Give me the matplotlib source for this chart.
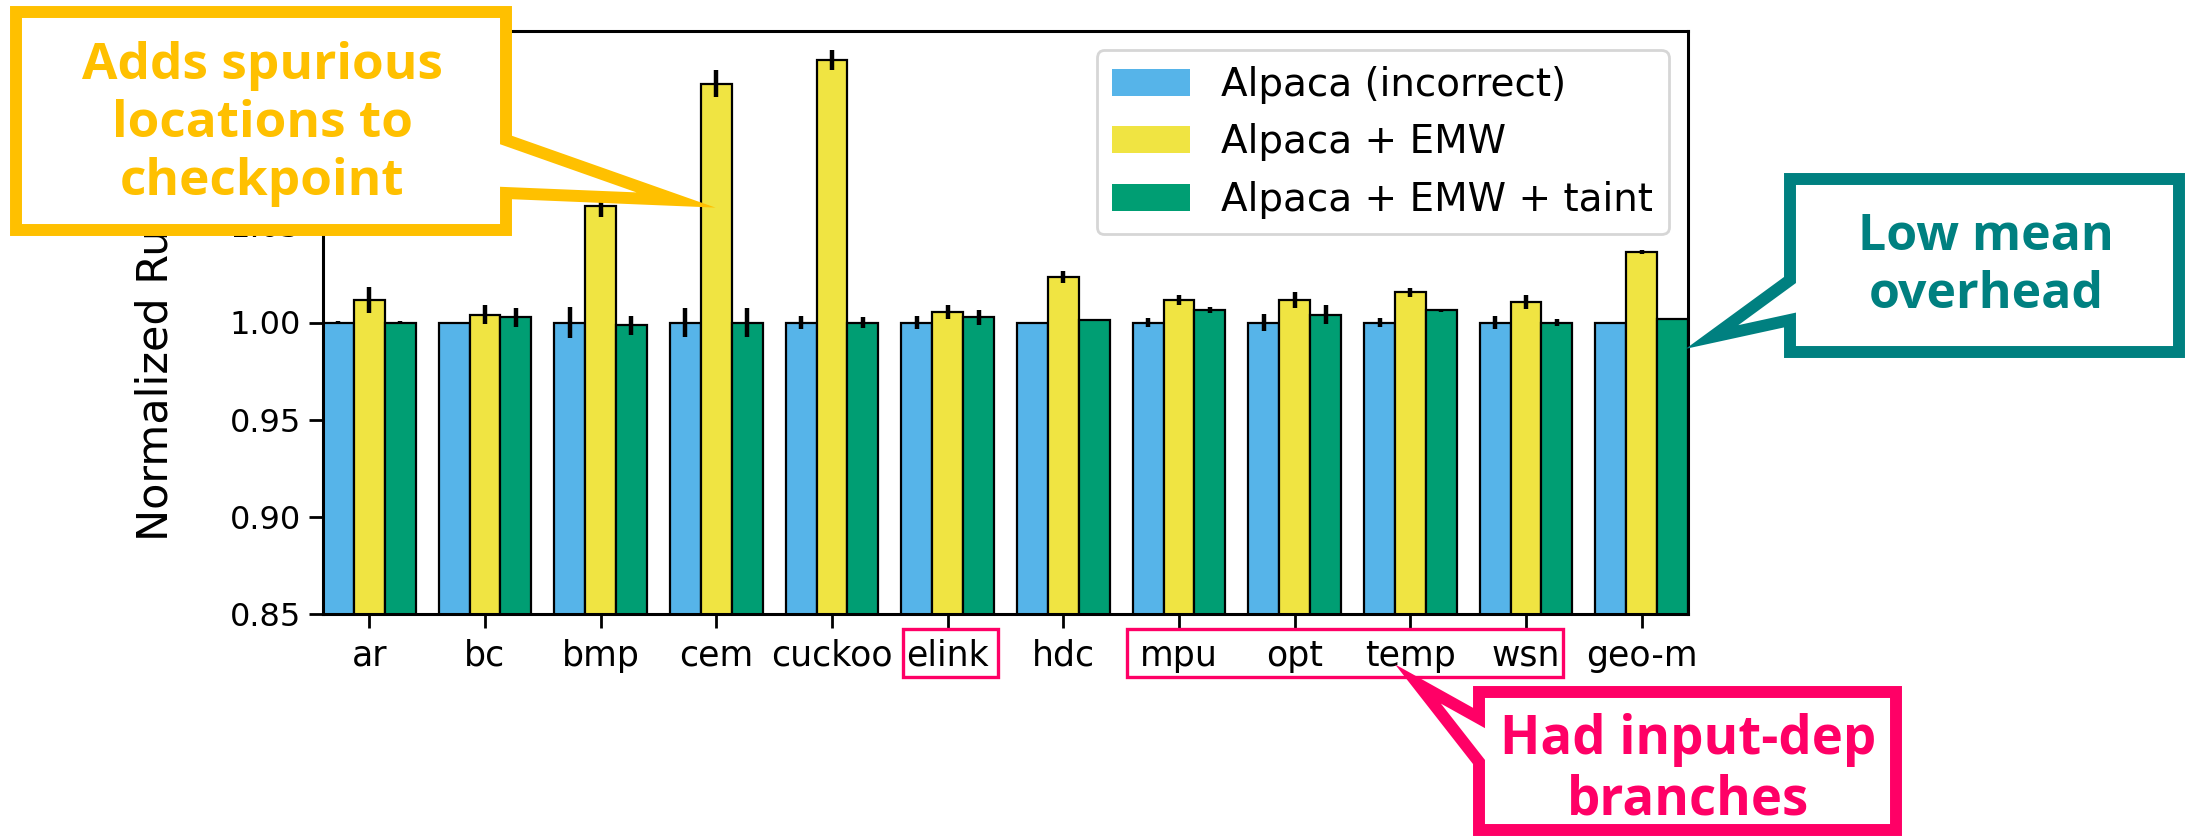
import numpy as np
import matplotlib
matplotlib.use("Agg")
import matplotlib.pyplot as plt
from matplotlib.patches import Polygon, Rectangle

# data
benchmarks = ['ar', 'bc', 'bmp', 'cem', 'cuckoo', 'elink', 'hdc', 'mpu', 'opt', 'temp', 'wsn', 'geo-m']
series_names = ['Alpaca (incorrect)', 'Alpaca + EMW', 'Alpaca + EMW + taint']
series_colors = ['#56B4E9', '#F0E442', '#009E73']

alpaca = [1.000, 1.000, 1.000, 1.000, 1.000, 1.000, 1.000, 1.000, 1.000, 1.000, 1.000, 1.000]
alpaca_err = [0.001, 0.0, 0.008, 0.0074, 0.0036, 0.0036, 0.0005, 0.0023, 0.0043, 0.0025, 0.0036, 0.0]
emw = [1.0116, 1.0040, 1.0602, 1.1228, 1.1349, 1.0052, 1.0234, 1.0116, 1.0116, 1.0156, 1.0104, 1.0365]
emw_err = [0.0068, 0.0049, 0.0060, 0.0070, 0.0052, 0.0036, 0.0030, 0.0024, 0.0043, 0.0024, 0.0037, 0.0010]
taint = [1.000, 1.0026, 0.9986, 1.000, 1.000, 1.0026, 1.0012, 1.0064, 1.0040, 1.0064, 1.000, 1.0017]
taint_err = [0.001, 0.0050, 0.0049, 0.0076, 0.0030, 0.0037, 0.0005, 0.0017, 0.0050, 0.0008, 0.0020, 0.0]

# 1.10 and 1.15 sit under the orange callout, so only these show
yticks = [0.85, 0.90, 0.95, 1.00, 1.05]

W, H = 2185, 836
fig = plt.figure(figsize=(W / 100, H / 100), dpi=100)
ax = fig.add_axes([323 / W, 1 - 614 / H, 1365 / W, 583 / H])

x = np.arange(len(benchmarks))
bw = 0.8 / 3
for i, (vals, errs) in enumerate([(alpaca, alpaca_err), (emw, emw_err), (taint, taint_err)]):
    ax.bar(x + (i - 1) * bw, vals, bw, yerr=errs, color=series_colors[i], edgecolor='black',
           linewidth=1.6, label=series_names[i],
           error_kw=dict(ecolor='black', elinewidth=3.2, capsize=0))

ax.set_xlim(-0.4, len(benchmarks) - 0.6)
ax.set_ylim(0.85, 1.15)
ax.set_yticks(yticks)
ax.set_yticklabels([f"{t:.2f}" for t in yticks])
ax.set_xticks(x)
ax.set_xticklabels(benchmarks)
ax.tick_params(axis='y', labelsize=23, length=10, width=2, pad=6)
ax.tick_params(axis='x', labelsize=25, length=10, width=2, pad=8)
ax.set_ylabel('Normalized Runtime', fontsize=31)
ax.yaxis.set_label_coords(-0.107, 0.5)
for sp in ax.spines.values():
    sp.set_linewidth(2.2)

leg = ax.legend(loc='upper right', fontsize=28, handlelength=2.0, borderaxespad=0.5)
leg.get_frame().set_linewidth(2)
for h in leg.legend_handles:
    h.set_edgecolor('none')

# overlay in pixel coordinates for the callouts
ov = fig.add_axes([0, 0, 1, 1], zorder=10)
ov.set_xlim(0, W)
ov.set_ylim(H, 0)
ov.axis('off')
ov.patch.set_visible(False)

callout_font = ['Open Sans', 'DejaVu Sans']

def callout(pts, color, text, center, size, spacing):
    ov.add_patch(Polygon(pts, closed=True, facecolor='white', edgecolor=color,
                         linewidth=8.6, joinstyle='miter'))
    ov.text(center[0], center[1], text, color=color, fontsize=size, fontweight='bold',
            family=callout_font, ha='center', va='center', linespacing=spacing)

orange = '#FFC000'
teal = '#008080'
pink = '#FF0066'

callout([(16, 12), (506, 12), (506, 140), (676, 200), (506, 193), (506, 230), (16, 230)],
        orange, 'Adds spurious\nlocations to\ncheckpoint', (262, 124), 37, 1.22)

callout([(1790, 179), (2179, 179), (2179, 352), (1790, 352), (1790, 320), (1712, 337), (1790, 280)],
        teal, 'Low mean\noverhead', (1986, 266), 36, 1.2)

callout([(1479, 692), (1896, 692), (1896, 830), (1479, 830), (1479, 762), (1418, 684), (1479, 718)],
        pink, 'Had input-dep\nbranches', (1688, 770), 38, 1.15)

# boxes round the tick labels
ov.add_patch(Rectangle((903, 629), 95, 48, fill=False, edgecolor=pink, linewidth=2.4))
ov.add_patch(Rectangle((1127, 629), 436, 48, fill=False, edgecolor=pink, linewidth=2.4))

fig.savefig('out.png', dpi=100)
